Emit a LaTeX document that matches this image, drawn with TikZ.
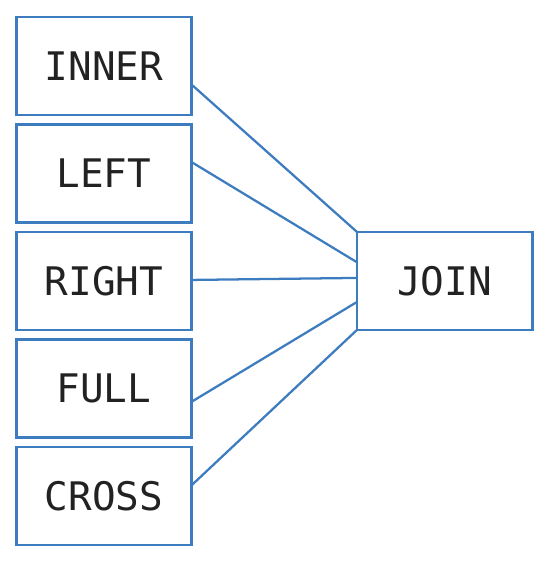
\documentclass[tikz,border=0pt]{standalone}
\usepackage{fontspec}
\newfontfamily\tblfont{DejaVu Sans Mono}
\usepackage{tikz}
\usetikzlibrary{positioning}
\definecolor{joinblue}{RGB}{62,124,192}
\definecolor{txtgray}{RGB}{34,34,34}
\tikzstyle{tbl} = [rectangle, draw=joinblue, line width=1.9pt, outer sep=0pt,
    minimum width=131.5pt, minimum height=73.5pt, text=txtgray,
    font=\tblfont\fontsize{29.5}{30}\selectfont]

\begin{document}
\begin{tikzpicture}[x=0.75pt,y=-0.75pt,node distance=7.1pt,
                    joinblue,line width=1.7pt]
  \useasboundingbox (0,0) rectangle (547,565);

  \node[tbl]   (tinner) at (104,66)         {INNER};
  \node[tbl]   (tleft)  [below=of tinner]   {LEFT};
  \node[tbl]   (tright) [below=of tleft]    {RIGHT};
  \node[tbl]   (tfull)  [below=of tright]   {FULL};
  \node[tbl]   (tcross) [below=of tfull]    {CROSS};
  \node[tbl]   (join)   [right=124pt of tright] {JOIN};

  \draw ([yshift=-14pt]tinner.east) -- (join.north west);
  \draw ([yshift=8.5pt]tleft.east)  -- ([yshift=14pt]join.west);
  \draw ([yshift=0.75pt]tright.east) -- ([yshift=2.25pt]join.west);
  \draw ([yshift=-10pt]tfull.east)  -- ([yshift=-15.75pt]join.west);
  \draw ([yshift=8pt]tcross.east)   -- (join.south west);
\end{tikzpicture}
\end{document}
